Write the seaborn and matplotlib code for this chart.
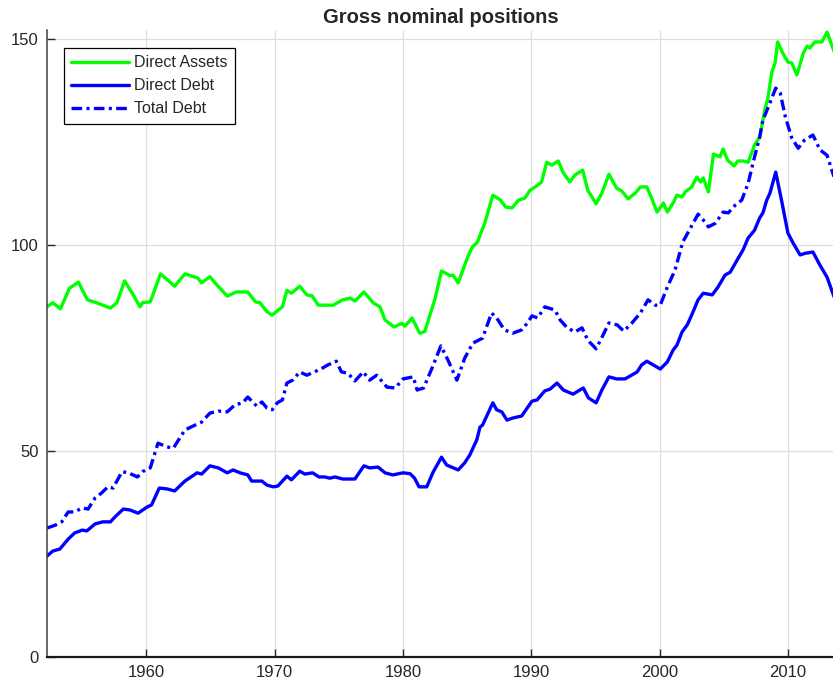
import pandas as pd
import matplotlib.pyplot as plt
import seaborn as sns

# Valores (ano decimal, % )
assets_year = [1952.25, 1952.7, 1953.3, 1954.0, 1954.7, 1955.4, 1956.1, 1956.6, 1957.2, 1957.7,
               1958.3, 1958.9, 1959.5, 1959.7, 1960.3, 1961.1, 1962.2, 1963.0, 1964.0, 1964.3,
               1964.95, 1965.5, 1966.3, 1967.0, 1967.9, 1968.5, 1968.85, 1969.4, 1969.8, 1970.6,
               1970.95, 1971.3, 1971.95, 1972.5, 1972.9, 1973.4, 1974.15, 1974.55, 1975.3, 1975.9,
               1976.25, 1976.95, 1977.7, 1978.2, 1978.6, 1979.3, 1979.9, 1980.15, 1980.7, 1981.3,
               1981.7, 1982.5, 1983.0, 1983.65, 1983.9, 1984.3, 1985.0, 1985.4, 1985.8, 1986.4,
               1987.0, 1987.6, 1988.0, 1988.5, 1989.0, 1989.5, 1989.9, 1990.3, 1990.8, 1991.2,
               1991.6, 1992.1, 1992.5, 1993.0, 1993.4, 1994.0, 1994.4, 1995.05, 1995.5, 1996.05,
               1996.65, 1997.05, 1997.55, 1998.1, 1998.5, 1999.0, 1999.4, 1999.8, 2000.3, 2000.6,
               2001.05, 2001.35, 2001.75, 2002.0, 2002.5, 2002.9, 2003.2, 2003.4, 2003.8, 2004.2,
               2004.7, 2004.95, 2005.3, 2005.8, 2006.1, 2006.5, 2006.9, 2007.4, 2007.8, 2008.2,
               2008.45, 2008.75, 2009.0, 2009.2, 2009.6, 2010.0, 2010.3, 2010.7, 2011.2, 2011.5,
               2011.7, 2012.1, 2012.65, 2013.05, 2013.6]
assets = [85.0, 86.0, 84.5, 89.5, 91.0, 86.7, 86.0, 85.4, 84.7, 86.0,
          91.3, 88.3, 85.0, 86.0, 86.2, 93.0, 90.0, 93.0, 92.0, 90.8,
          92.3, 90.3, 87.6, 88.6, 88.6, 86.2, 86.0, 83.8, 83.0, 85.0,
          89.0, 88.3, 90.0, 87.9, 87.7, 85.4, 85.4, 85.4, 86.7, 87.1,
          86.4, 88.6, 85.9, 85.0, 81.8, 80.1, 81.0, 80.3, 82.3, 78.6,
          79.0, 87.0, 93.7, 92.6, 92.7, 90.8, 96.8, 99.5, 100.7, 105.6,
          112.1, 110.9, 109.2, 109.0, 110.9, 111.4, 113.3, 114.1, 115.3, 120.1,
          119.4, 120.4, 117.5, 115.3, 117.0, 118.2, 113.3, 110.0, 112.6, 117.2,
          113.8, 113.1, 111.2, 112.6, 114.1, 114.1, 111.2, 108.0, 110.2, 108.0,
          110.2, 112.1, 111.7, 112.9, 114.1, 116.5, 115.3, 116.3, 112.9, 122.1,
          121.4, 123.3, 120.6, 119.2, 120.4, 120.4, 120.1, 124.3, 126.2, 132.8,
          135.9, 142.0, 144.2, 149.3, 146.6, 144.4, 144.2, 141.3, 146.6, 148.3,
          147.8, 149.3, 149.3, 151.7, 147.0]

direct_year = [1952.25, 1952.7, 1953.25, 1953.9, 1954.4, 1955.0, 1955.35, 1956.0, 1956.6, 1957.2,
               1957.55, 1958.2, 1958.7, 1959.35, 1960.05, 1960.4, 1961.0, 1961.6, 1962.2, 1963.0,
               1963.95, 1964.3, 1964.95, 1965.6, 1966.3, 1966.75, 1967.3, 1967.9, 1968.2, 1969.0,
               1969.4, 1969.9, 1970.25, 1970.95, 1971.3, 1971.95, 1972.35, 1972.95, 1973.45, 1973.9,
               1974.3, 1974.7, 1975.3, 1976.25, 1976.95, 1977.4, 1978.05, 1978.6, 1979.2, 1980.0,
               1980.55, 1980.9, 1981.25, 1981.85, 1982.35, 1983.0, 1983.4, 1984.3, 1984.8, 1985.2,
               1985.75, 1986.0, 1986.2, 1987.0, 1987.3, 1987.7, 1988.1, 1988.55, 1989.25, 1990.05,
               1990.45, 1991.05, 1991.45, 1992.0, 1992.5, 1993.25, 1994.05, 1994.45, 1995.05, 1995.5,
               1996.05, 1996.65, 1997.3, 1997.7, 1998.25, 1998.6, 1999.0, 1999.5, 2000.05, 2000.6,
               2001.05, 2001.35, 2001.75, 2002.15, 2002.5, 2003.0, 2003.4, 2004.1, 2004.55, 2005.1,
               2005.5, 2006.05, 2006.5, 2006.9, 2007.4, 2007.8, 2008.05, 2008.35, 2008.6, 2009.05,
               2009.5, 2010.0, 2010.4, 2010.95, 2011.35, 2011.95, 2012.5, 2013.05, 2013.6]
direct = [24.5, 25.7, 26.2, 28.6, 30.1, 30.8, 30.6, 32.3, 32.8, 32.8,
          34.0, 35.9, 35.7, 34.9, 36.4, 36.9, 41.0, 40.8, 40.3, 42.7,
          44.7, 44.4, 46.4, 45.9, 44.7, 45.4, 44.7, 44.2, 42.7, 42.7,
          41.7, 41.3, 41.5, 43.9, 43.0, 45.1, 44.4, 44.7, 43.7, 43.7,
          43.4, 43.7, 43.2, 43.2, 46.4, 45.9, 46.1, 44.7, 44.2, 44.7,
          44.5, 43.4, 41.3, 41.3, 44.9, 48.5, 46.6, 45.4, 47.1, 49.0,
          52.7, 55.8, 56.3, 61.7, 60.0, 59.5, 57.5, 58.0, 58.5, 62.1,
          62.4, 64.6, 65.0, 66.5, 64.8, 63.8, 65.3, 62.9, 61.7, 64.8,
          68.0, 67.5, 67.5, 68.2, 69.2, 70.9, 71.8, 70.9, 69.9, 71.6,
          74.5, 75.7, 78.9, 80.6, 83.0, 86.7, 88.3, 87.9, 89.8, 92.7,
          93.4, 96.4, 98.8, 101.7, 103.6, 106.6, 107.8, 110.9, 112.6, 117.7,
          110.9, 102.9, 100.5, 97.6, 98.0, 98.3, 95.1, 92.2, 87.4]

total_year = [1952.25, 1952.9, 1953.4, 1953.9, 1954.4, 1955.0, 1955.45, 1956.0, 1956.5, 1957.0,
              1957.4, 1958.1, 1958.6, 1959.3, 1959.7, 1960.3, 1960.9, 1961.6, 1962.1, 1963.0,
              1963.8, 1964.3, 1964.95, 1965.6, 1966.3, 1966.9, 1967.5, 1967.9, 1968.6, 1969.0,
              1969.4, 1969.8, 1970.2, 1970.6, 1970.95, 1971.4, 1971.95, 1972.5, 1973.1, 1973.7,
              1974.15, 1974.8, 1975.2, 1975.7, 1976.25, 1976.9, 1977.4, 1977.95, 1978.75, 1979.4,
              1980.0, 1980.8, 1981.1, 1981.6, 1982.3, 1982.95, 1983.5, 1984.2, 1984.8, 1985.45,
              1986.2, 1986.9, 1987.3, 1987.9, 1988.55, 1989.25, 1989.7, 1990.05, 1990.5, 1991.05,
              1991.85, 1992.25, 1992.8, 1993.4, 1993.95, 1994.4, 1995.05, 1995.6, 1996.05, 1996.7,
              1997.2, 1997.85, 1998.5, 1999.1, 1999.65, 2000.05, 2000.6, 2001.2, 2001.8, 2002.4,
              2003.0, 2003.4, 2003.8, 2004.35, 2004.95, 2005.35, 2005.9, 2006.4, 2006.9, 2007.4,
              2007.8, 2008.05, 2008.6, 2009.05, 2009.4, 2009.8, 2010.3, 2010.8, 2011.3, 2011.95,
              2012.5, 2013.05, 2013.6]
total = [31.3, 32.0, 32.8, 35.2, 35.2, 36.2, 35.9, 38.6, 39.8, 41.3,
         41.0, 45.0, 44.7, 43.7, 45.0, 45.9, 51.9, 51.0, 50.7, 55.1,
         56.3, 57.0, 59.2, 59.7, 59.5, 61.2, 61.7, 63.1, 60.9, 61.9,
         60.4, 60.0, 61.7, 62.4, 66.5, 67.2, 69.2, 68.4, 69.2, 70.1,
         70.9, 71.8, 69.2, 68.9, 67.0, 69.2, 67.2, 68.4, 65.5, 65.3,
         67.5, 68.0, 64.8, 65.3, 70.4, 75.5, 72.1, 67.2, 72.5, 76.2,
         77.4, 83.5, 82.3, 79.4, 78.6, 79.4, 81.1, 82.8, 82.3, 85.0,
         84.2, 81.8, 79.9, 78.9, 79.9, 76.9, 74.8, 78.2, 81.1, 80.6,
         79.1, 81.1, 83.5, 86.7, 85.4, 85.4, 89.8, 93.9, 100.7, 104.1,
         107.5, 106.1, 104.4, 105.3, 108.0, 107.8, 109.7, 110.9, 115.0, 121.4,
         126.2, 130.3, 134.5, 138.1, 136.9, 131.1, 126.0, 123.5, 125.5, 126.7,
         123.1, 121.8, 116.5]

df_assets = pd.DataFrame({'ano': assets_year, 'valor': assets})
df_direct = pd.DataFrame({'ano': direct_year, 'valor': direct})
df_total = pd.DataFrame({'ano': total_year, 'valor': total})

sns.set_theme(style="white")
plt.rcParams['font.family'] = ['Liberation Sans', 'DejaVu Sans']

fig = plt.figure(figsize=(8.33, 6.88), dpi=100)
ax = fig.add_axes([0.0564, 0.0451, 0.946, 0.9113])

verde = '#00ff00'
azul = '#0000ff'
sns.lineplot(x='ano', y='valor', data=df_assets, color=verde, linewidth=2.4, ax=ax, label='Direct Assets')
sns.lineplot(x='ano', y='valor', data=df_direct, color=azul, linewidth=2.4, ax=ax, label='Direct Debt')
sns.lineplot(x='ano', y='valor', data=df_total, color=azul, linewidth=2.4, ax=ax, label='Total Debt',
             linestyle=(0, (3.2, 1.3, 0.9, 1.3)))

ax.set_xlim(1952.25, 2013.67)
ax.set_ylim(0, 152.2)
ax.set_xticks([1960, 1970, 1980, 1990, 2000, 2010])
ax.set_yticks([0, 50, 100, 150])
ax.set_xlabel('')
ax.set_ylabel('')

# Estilo tipo MATLAB: grade clara, ticks para dentro, sem caixa
ax.grid(True, color='#dedede', linewidth=0.9)
ax.set_axisbelow(True)
for s in ['top', 'right']:
    ax.spines[s].set_visible(False)
ax.spines['left'].set_color('#404040')
ax.spines['left'].set_linewidth(1.1)
ax.spines['bottom'].set_color('#1a1a1a')
ax.spines['bottom'].set_linewidth(1.6)
ax.tick_params(direction='in', length=6, width=1, colors='#262626', labelsize=12, pad=6,
               left=True, bottom=True)

ax.set_title('Gross nominal positions', fontsize=14.5, fontweight='bold', pad=5)

leg = ax.legend(loc='upper left', bbox_to_anchor=(0.0216, 0.971), borderaxespad=0,
                fontsize=11.5, frameon=True, fancybox=False, framealpha=1, edgecolor='black',
                handlelength=3.6, handletextpad=0.35, labelspacing=0.5, borderpad=0.45)
leg.get_frame().set_linewidth(0.9)

plt.savefig('out.png', dpi=100)
